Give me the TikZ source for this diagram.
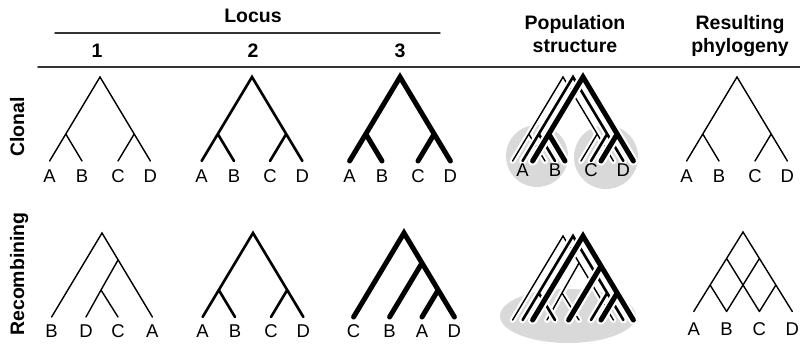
\documentclass[tikz,border=0pt]{standalone}
\usepackage{fontspec}
\setmainfont{Liberation Sans}
\usetikzlibrary{positioning,shapes.geometric}
\definecolor{blobgrey}{gray}{0.85}

\begin{document}
\begin{tikzpicture}[
  x=1pt, y=-1pt,
  line cap=round,
  head/.style={font=\fontsize{19.5}{23}\selectfont\bfseries, inner sep=0pt, align=center},
  leaf/.style={font=\fontsize{18.5}{20}\selectfont, inner sep=0pt, text height=13pt, text depth=0pt},
  rule/.style={line width=1.7pt, black!80},
  thin/.style={line width=1.4pt},
  mid/.style={line width=2.6pt},
  fat/.style={line width=5pt},
  treeline/.style={},
  halo/.style={treeline/.style={preaction={draw=white, line join=round, line width=\pgflinewidth+2.2pt}}},
  blob/.style={fill=blobgrey, inner sep=0pt},
  % ((A,B),(C,D))
  clonal/.pic={
    \coordinate (-r)  at (0,0);
    \coordinate (-u)  at (-34.2,57);
    \coordinate (-v)  at (34.2,57);
    \coordinate (-l1) at (-50.4,84);
    \coordinate (-l2) at (-18,84);
    \coordinate (-l3) at (18,84);
    \coordinate (-l4) at (50.4,84);
    \draw[treeline] (-l1) -- (-r) -- (-l4) (-u) -- (-l2) (-v) -- (-l3);
  },
  % (B,((D,C),A))
  recombthin/.pic={
    \coordinate (-r)  at (0,0);
    \coordinate (-u)  at (16,27);
    \coordinate (-v)  at (-1,57);
    \coordinate (-l1) at (-50.4,84);
    \coordinate (-l2) at (-16,84);
    \coordinate (-l3) at (16,84);
    \coordinate (-l4) at (50.4,84);
    \draw[treeline] (-l1) -- (-r) -- (-l4) (-u) -- (-v) -- (-l2) (-v) -- (-l3);
  },
  % (C,(B,(A,D)))
  recombfat/.pic={
    \coordinate (-r)  at (0,0);
    \coordinate (-u)  at (18,30);
    \coordinate (-v)  at (34.2,57);
    \coordinate (-l1) at (-50.4,84);
    \coordinate (-l2) at (-14.4,84);
    \coordinate (-l3) at (18,84);
    \coordinate (-l4) at (50.4,84);
    \draw[treeline] (-l1) -- (-r) -- (-l4) (-u) -- (-l2) (-v) -- (-l3);
  },
  % reticulate result
  network/.pic={
    \coordinate (-r)  at (0,0);
    \coordinate (-u)  at (-16.4,26.5);
    \coordinate (-v)  at (16.4,26.5);
    \coordinate (-w1) at (-32.9,53);
    \coordinate (-w3) at (32.9,53);
    \coordinate (-l1) at (-49.3,79.5);
    \coordinate (-l2) at (-16.4,79.5);
    \coordinate (-l3) at (16.4,79.5);
    \coordinate (-l4) at (49.3,79.5);
    \draw[treeline] (-l1) -- (-r) -- (-l4) (-u) -- (-l3) (-v) -- (-l2)
      (-w1) -- (-l2) (-w3) -- (-l3);
  },
]
\useasboundingbox (0,0) rectangle (800,343);

% ---- header ----
\node[head, anchor=base] (locus) at (253,22) {Locus};
\coordinate (locusL) at (55,33);
\coordinate (locusR) at (440,33);
\draw[rule, line width=1.4pt] (locusL) -- (locusR);
\node[head, anchor=base] (loc1) at (97,57)  {1};
\node[head, anchor=base] (loc2) at (253,57) {2};
\node[head, anchor=base] (loc3) at (400,57) {3};
\node[head, anchor=north] (popstr) at (575,15) {Population\\structure};
\node[head, anchor=north] (result) at (740,15) {Resulting\\phylogeny};
\coordinate (ruleL) at (38,67);
\coordinate (ruleR) at (800,67);
\draw[rule] (ruleL) -- (ruleR);

% ---- row labels ----
\node[head, rotate=90, anchor=base] (clonal) at (24,127) {Clonal};
\node[head, rotate=90, anchor=base] (recomb) at (24,274) {Recombining};

% ---- clonal row: one tree per locus ----
\pic[thin] (t1) at (100,77) {clonal};
\pic[mid]  (t2) at (252,77) {clonal};
\pic[fat]  (t3) at (400,77) {clonal};
\node[leaf, below=8pt of t1-l1] (t1a) {A}; \node[leaf, below=8pt of t1-l2] (t1b) {B};
\node[leaf, below=8pt of t1-l3] (t1c) {C}; \node[leaf, below=8pt of t1-l4] (t1d) {D};
\node[leaf, below=8pt of t2-l1] (t2a) {A}; \node[leaf, below=8pt of t2-l2] (t2b) {B};
\node[leaf, below=8pt of t2-l3] (t2c) {C}; \node[leaf, below=8pt of t2-l4] (t2d) {D};
\node[leaf, below=8pt of t3-l1] (t3a) {A}; \node[leaf, below=8pt of t3-l2] (t3b) {B};
\node[leaf, below=8pt of t3-l3] (t3c) {C}; \node[leaf, below=8pt of t3-l4] (t3d) {D};

% ---- clonal row: population structure ----
\node[blob, circle, minimum size=62pt] (clusterAB) at (537,156) {};
\node[blob, circle, minimum size=64pt] (clusterCD) at (606,157) {};
\pic[thin, halo] (p1) at (563,77) {clonal};
\pic[mid, halo]  (p2) at (573,77) {clonal};
\pic[fat, halo]  (p3) at (583,77) {clonal};
\node[leaf, below=2pt of p2-l1] (p2a) {A}; \node[leaf, below=2pt of p2-l2] (p2b) {B};
\node[leaf, below=2pt of p2-l3] (p2c) {C}; \node[leaf, below=2pt of p2-l4] (p2d) {D};

% ---- clonal row: resulting phylogeny ----
\pic[thin] (f1) at (737,77) {clonal};
\node[leaf, below=8pt of f1-l1] (f1a) {A}; \node[leaf, below=8pt of f1-l2] (f1b) {B};
\node[leaf, below=8pt of f1-l3] (f1c) {C}; \node[leaf, below=8pt of f1-l4] (f1d) {D};

% ---- recombining row: one tree per locus ----
\pic[thin] (s1) at (102,233) {recombthin};
\pic[mid]  (s2) at (253,233) {clonal};
\pic[fat]  (s3) at (404,233) {recombfat};
\node[leaf, below=7pt of s1-l1] (s1b) {B}; \node[leaf, below=7pt of s1-l2] (s1d) {D};
\node[leaf, below=7pt of s1-l3] (s1c) {C}; \node[leaf, below=7pt of s1-l4] (s1a) {A};
\node[leaf, below=7pt of s2-l1] (s2a) {A}; \node[leaf, below=7pt of s2-l2] (s2b) {B};
\node[leaf, below=7pt of s2-l3] (s2c) {C}; \node[leaf, below=7pt of s2-l4] (s2d) {D};
\node[leaf, below=7pt of s3-l1] (s3c) {C}; \node[leaf, below=7pt of s3-l2] (s3b) {B};
\node[leaf, below=7pt of s3-l3] (s3a) {A}; \node[leaf, below=7pt of s3-l4] (s3d) {D};

% ---- recombining row: population structure ----
\node[blob, ellipse, minimum width=136pt, minimum height=54pt] (mixed) at (568,316) {};
\pic[thin, halo] (q1) at (563,236) {recombthin};
\pic[mid, halo]  (q2) at (573,236) {clonal};
\pic[fat, halo]  (q3) at (583,236) {recombfat};

% ---- recombining row: resulting phylogeny ----
\pic[thin] (f2) at (743,232) {network};
\node[leaf, below=11pt of f2-l1] (f2a) {A}; \node[leaf, below=11pt of f2-l2] (f2b) {B};
\node[leaf, below=11pt of f2-l3] (f2c) {C}; \node[leaf, below=11pt of f2-l4] (f2d) {D};

\end{tikzpicture}
\end{document}
